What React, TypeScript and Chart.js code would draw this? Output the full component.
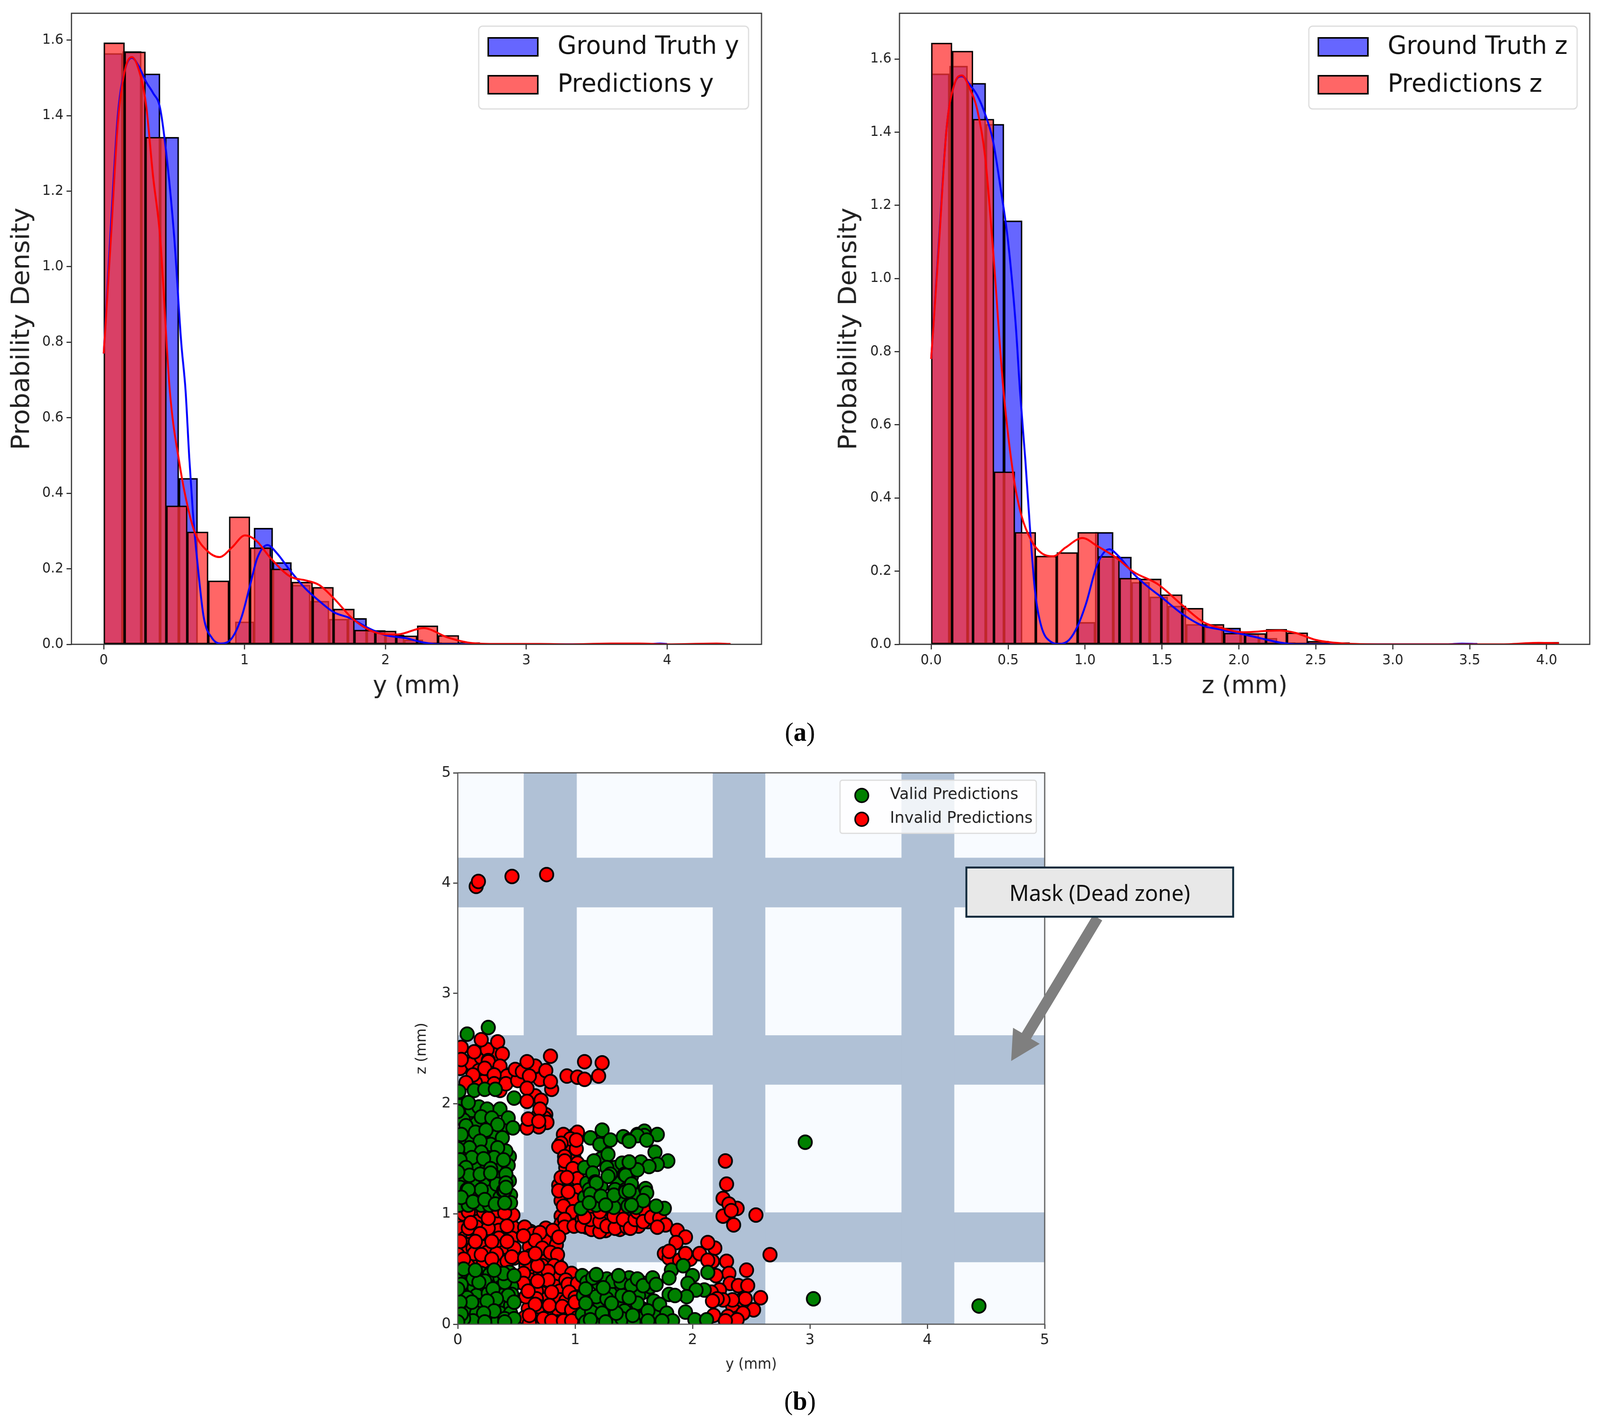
import { useEffect, useRef } from 'react'
import { Chart, registerables } from 'chart.js'

Chart.register(...registerables);

const BINS = 30;
const PAGE_WIDTH = 4198;
const tickFont = 'DejaVu Sans';

// y histogram (density per bin)
const groundTruthYBins = [1.565, 1.57, 1.511, 1.343, 0.44, 0, 0, 0.06, 0.308, 0.217, 0.157, 0.1145, 0.067, 0.069, 0.037, 0.025, 0.012, 0.005, 0, 0, 0, 0, 0, 0, 0, 0, 0, 0, 0, 0.002];
const predictionsYBins = [1.593, 1.569, 1.343, 0.367, 0.298, 0.1685, 0.338, 0.256, 0.2, 0.165, 0.1514, 0.0937, 0.038, 0.0355, 0.023, 0.0494, 0.024, 0.005, 0.002, 0.001, 0.001, 0, 0, 0, 0.002, 0.002, 0, 0, 0, 0.002];
const groundTruthYMax = 4.0;
const predictionsYMax = 4.45;

// z histogram
const groundTruthZBins = [1.56, 1.581, 1.534, 1.422, 1.158, 0.005, 0, 0, 0.0605, 0.3065, 0.239, 0.17, 0.13, 0.105, 0.055, 0.048, 0.045, 0.029, 0.017, 0.005, 0, 0, 0, 0, 0, 0, 0, 0, 0, 0.002];
const predictionsZBins = [1.644, 1.622, 1.436, 0.472, 0.3065, 0.2417, 0.2512, 0.3065, 0.2407, 0.181, 0.179, 0.136, 0.099, 0.055, 0.031, 0.03, 0.0415, 0.032, 0.009, 0.005, 0.002, 0.001, 0, 0, 0, 0, 0, 0, 0.002, 0.006];
const groundTruthZMax = 3.55;
const predictionsZMax = 4.08;

// density curves
const kdeGroundTruthYX = [0, 0.05, 0.1, 0.15, 0.2, 0.25, 0.3, 0.35, 0.4, 0.45, 0.5, 0.55, 0.581, 0.607, 0.633, 0.667, 0.71, 0.77, 0.831, 0.909, 0.978, 1.038, 1.09, 1.162, 1.228, 1.322, 1.426, 1.529, 1.633, 1.753, 1.874, 1.995, 2.15, 2.27, 2.39, 2.6, 3.85, 3.95, 4.0];
const kdeGroundTruthYV = [0.77, 1.1, 1.4, 1.52, 1.553, 1.53, 1.49, 1.46, 1.42, 1.28, 1.08, 0.8, 0.672, 0.496, 0.349, 0.21, 0.0716, 0.016, 0.002, 0.016, 0.0716, 0.155, 0.2285, 0.263, 0.242, 0.196, 0.15, 0.115, 0.085, 0.069, 0.044, 0.025, 0.016, 0.005, 0, 0, 0, 0.002, 0.001];
const kdePredictionsYX = [0, 0.05, 0.1, 0.15, 0.2, 0.25, 0.3, 0.35, 0.4, 0.469, 0.538, 0.6, 0.65, 0.736, 0.822, 0.909, 1.003, 1.081, 1.184, 1.322, 1.443, 1.53, 1.633, 1.77, 1.926, 2.08, 2.27, 2.44, 2.6, 2.8, 3.1, 3.3, 3.6, 3.8, 4.0, 4.35, 4.45];
const kdePredictionsYV = [0.77, 1.07, 1.38, 1.52, 1.555, 1.52, 1.43, 1.24, 1.08, 0.672, 0.478, 0.358, 0.293, 0.247, 0.231, 0.256, 0.2885, 0.275, 0.2285, 0.18, 0.1685, 0.157, 0.122, 0.067, 0.032, 0.026, 0.043, 0.0185, 0.004, 0.001, 0.001, 0, 0.002, 0.002, 0, 0.002, 0.001];
const kdeGroundTruthZX = [0, 0.05, 0.1, 0.15, 0.2, 0.25, 0.3, 0.35, 0.4, 0.45, 0.5, 0.55, 0.577, 0.612, 0.643, 0.675, 0.715, 0.778, 0.833, 0.896, 0.952, 1.007, 1.078, 1.157, 1.22, 1.315, 1.41, 1.505, 1.632, 1.758, 1.885, 2.01, 2.137, 2.264, 2.37, 2.6, 3.35, 3.45, 3.55];
const kdeGroundTruthZV = [0.78, 1.1, 1.41, 1.53, 1.553, 1.53, 1.5, 1.45, 1.38, 1.25, 1.1, 0.87, 0.6935, 0.503, 0.312, 0.145, 0.05, 0.007, 0.001, 0.012, 0.05, 0.112, 0.217, 0.26, 0.24, 0.193, 0.157, 0.126, 0.083, 0.052, 0.04, 0.029, 0.017, 0.005, 0, 0, 0, 0.002, 0.001];
const kdePredictionsZX = [0, 0.05, 0.1, 0.15, 0.2, 0.25, 0.3, 0.35, 0.4, 0.47, 0.54, 0.588, 0.651, 0.715, 0.794, 0.873, 0.983, 1.078, 1.205, 1.315, 1.473, 1.632, 1.774, 1.9, 2.03, 2.185, 2.264, 2.37, 2.5, 2.7, 3.0, 3.7, 3.95, 4.08];
const kdePredictionsZV = [0.78, 1.09, 1.41, 1.53, 1.555, 1.52, 1.46, 1.335, 1.09, 0.6935, 0.4457, 0.35, 0.2836, 0.25, 0.2407, 0.2645, 0.2907, 0.269, 0.236, 0.198, 0.1644, 0.107, 0.0596, 0.043, 0.033, 0.0367, 0.038, 0.031, 0.012, 0.002, 0, 0, 0.004, 0.003];

// tick labels
const yHistTicks = [0, 1, 2, 3, 4];
const zHistTicks = [0, 0.5, 1, 1.5, 2, 2.5, 3, 3.5, 4];
const densityTicksY = [0, 0.2, 0.4, 0.6, 0.8, 1, 1.2, 1.4, 1.6];
const scatterTicks = [0, 1, 2, 3, 4, 5];

// dead zone bands, same on both axes of the scatter
const maskBands = [[0.562, 1.014], [2.172, 2.62], [3.78, 4.23]];

// [y, z] in mm, the packed ones underneath first
const validPacked: number[][] = [
  [0.02, 1.98], [0.12, 1.94], [0.18, 1.97], [0.05, 1.85], [0.16, 1.82], [0.27, 1.78], [0.38, 1.78], [0.02, 1.66], [0.12, 1.68], [0.25, 1.69], [0.33, 1.7], [0.05, 1.55], [0.16, 1.6], [0.27, 1.57], [0.37, 1.6], [0.44, 1.52], [0.06, 1.44], [0.15, 1.45], [0.25, 1.44], [0.35, 1.43], [0.43, 1.44], [0.03, 1.3], [0.13, 1.28], [0.24, 1.3], [0.3, 1.35], [0.44, 1.3], [0.06, 1.16], [0.18, 1.16], [0.28, 1.2], [0.36, 1.15], [0.45, 1.17], [0.01, 1.08], [0.09, 1.08], [0.2, 1.08], [0.27, 1.08], [0.45, 1.1],
  [0.01, 0.46], [0.09, 0.45], [0.2, 0.46], [0.27, 0.45], [0.36, 0.42], [0.44, 0.47], [0.07, 0.36], [0.14, 0.33], [0.24, 0.33], [0.36, 0.33], [0.46, 0.34], [0.02, 0.28], [0.16, 0.26], [0.26, 0.28], [0.38, 0.26], [0.46, 0.27], [0.06, 0.17], [0.17, 0.17], [0.3, 0.18], [0.39, 0.17], [0.45, 0.17], [0.09, 0.1], [0.16, 0.1], [0.27, 0.08], [0.36, 0.1], [0.44, 0.03], [0.02, 0.03], [0.09, 0.02], [0.18, 0.03], [0.28, 0.03], [0.34, 0.03],
  [1.06, 0.44], [1.1, 0.38], [1.07, 0.26], [1.13, 0.18], [1.06, 0.09], [1.09, 0.02], [1.2, 0.37], [1.27, 0.41], [1.32, 0.31], [1.21, 0.16], [1.3, 0.28], [1.36, 0.18], [1.44, 0.31], [1.42, 0.12], [1.46, 0.42], [1.58, 0.29], [1.64, 0.34], [1.57, 0.14], [1.33, 0.03], [1.2, 0.05], [1.44, 0.04], [1.68, 0.08],
  [1.08, 1.42], [1.1, 1.28], [1.22, 1.5], [1.34, 1.42], [1.22, 1.25], [1.36, 1.3], [1.48, 1.34], [1.08, 1.15], [1.18, 1.08], [1.38, 1.12], [1.33, 1.06], [1.52, 1.06], [1.05, 1.05],
];
const validPredictions: number[][] = [
  [0.08, 2.63], [0.26, 2.69], [0.01, 2.11], [0.14, 2.12], [0.23, 2.13], [0.32, 2.13], [0.09, 2.01], [0.48, 2.05], [0, 1.93], [0.25, 1.95], [0.36, 1.95], [0.2, 1.88], [0.29, 1.87], [0.43, 1.87], [0.07, 1.8], [0.34, 1.81], [0.47, 1.78], [0.15, 1.74], [0.24, 1.76], [0.03, 1.72], [0.38, 1.69], [0.28, 1.63], [0.19, 1.66], [0.1, 1.6], [0, 1.59], [0.41, 1.57], [0.34, 1.6], [0.2, 1.56], [0.12, 1.51], [0.31, 1.51], [0.39, 1.49], [0.22, 1.5], [0.02, 1.49], [0.07, 1.42], [0.28, 1.41], [0.41, 1.36], [0.1, 1.35], [0.19, 1.36], [0, 1.38], [0.33, 1.27], [0.41, 1.28], [0.2, 1.22], [0.02, 1.24], [0.08, 1.22], [0.39, 1.21], [0.28, 1.37], [0.4, 1.21], [0.09, 1.22], [0.03, 1.15], [0.13, 1.11], [0.23, 1.13], [0.41, 1.24], [0.32, 1.09], [0.4, 1.1],
  [1.13, 1.69], [1.23, 1.76], [1.21, 1.63], [1.3, 1.67], [1.41, 1.7], [1.46, 1.67], [1.53, 1.72], [1.59, 1.75], [1.28, 1.54], [1.16, 1.48], [1.27, 1.42], [1.4, 1.46], [1.46, 1.47], [1.56, 1.47], [1.15, 1.37], [1.3, 1.36], [1.42, 1.36], [1.51, 1.4], [1.17, 1.29], [1.34, 1.22], [1.43, 1.22], [1.12, 1.22], [1.18, 1.28], [1.13, 1.18], [1.22, 1.16], [1.33, 1.17], [1.43, 1.2], [1.43, 1.35], [1.28, 1.34], [1.54, 1.17], [1.26, 1.08], [1.45, 1.07], [1.12, 1.1],
  [1.7, 1.72], [1.59, 1.71], [1.53, 1.71], [1.46, 1.66], [1.61, 1.67], [1.68, 1.56], [1.79, 1.48], [1.7, 1.45], [1.63, 1.43], [1.53, 1.4], [1.46, 1.47], [1.48, 1.27], [1.6, 1.23], [1.61, 1.19], [1.58, 1.12], [1.46, 1.21], [1.76, 1.05], [1.69, 1.07], [1.48, 1.08], [2.96, 1.65],
  [0.13, 0.41], [0.23, 0.39], [0.4, 0.38], [0.03, 0.36], [0.3, 0.32], [0.08, 0.24], [0.43, 0.26], [0.33, 0.23], [0.25, 0.21], [0.12, 0.2], [0.02, 0.2], [0.45, 0.1], [0.31, 0.12], [0.22, 0.1], [0.13, 0.03], [0.05, 0.05], [0.23, 0.02], [0.4, 0.05], [0.48, 0.2], [0.03, 0.09], [0.39, 0.46], [0.05, 0.5], [0.31, 0.49], [0.48, 0.44], [0.18, 0.38], [0.48, 0.05], [0, 0.32], [0, 0.02], [0.4, 0.02], [0.15, 0.49],
  [1.32, 0.39], [1.53, 0.4], [1.18, 0.25], [1.4, 0.26], [1.27, 0.23], [1.14, 0.11], [1.23, 0.1], [1.49, 0.08], [1.4, 0.05], [1.15, 0.42], [1.24, 0.33], [1.39, 0.38], [1.54, 0.26], [1.48, 0.35], [1.09, 0.32], [1.09, 0.19], [1.35, 0.1], [1.53, 0.18], [1.26, 0.02], [1.57, 0.05], [1.31, 0.19], [1.18, 0.45], [1.37, 0.44], [1.5, 0.02], [1.13, 0.04], [1.59, 0.37],
  [1.82, 0.49], [1.8, 0.42], [1.53, 0.41], [1.58, 0.35], [1.66, 0.42], [1.69, 0.36], [2.0, 0.44], [1.96, 0.37], [2.1, 0.31], [2.03, 0.31], [1.8, 0.27], [1.95, 0.25], [1.53, 0.19], [1.67, 0.21], [1.72, 0.18], [1.85, 0.26], [1.62, 0.12], [1.49, 0.08], [1.78, 0.1], [1.94, 0.11], [1.62, 0.03], [1.83, 0.03], [2.02, 0.04], [2.12, 0.04], [1.74, 0.03], [1.46, 0.24], [2.13, 0.47], [1.92, 0.53], [3.03, 0.23], [4.44, 0.165],
];
const invalidPacked: number[][] = [
  [0.02, 2.32], [0.12, 2.36], [0.2, 2.42], [0.32, 2.44], [0.18, 2.3], [0.29, 2.28], [0.38, 2.28], [0.22, 2.2], [0.15, 2.19], [0.36, 2.12],
  [0.02, 0.96], [0.14, 1.0], [0.17, 0.93], [0.33, 0.95], [0.03, 0.87], [0.16, 0.88], [0.35, 0.85], [0.47, 0.88], [0.06, 0.78], [0.13, 0.8], [0.24, 0.78], [0.35, 0.78], [0.46, 0.78], [0.09, 0.72], [0.22, 0.7], [0.36, 0.7], [0.06, 0.67], [0.25, 0.65], [0.39, 0.65], [0.12, 0.58], [0.33, 0.56], [0.48, 0.6], [0.27, 0.56], [0.38, 0.58], [0.18, 0.6],
  [0.62, 0.84], [0.68, 0.76], [0.61, 0.7], [0.78, 0.78], [0.74, 0.76], [0.84, 0.72], [0.62, 0.62], [0.74, 0.6], [0.6, 0.55], [0.72, 0.53], [0.84, 0.58], [0.64, 0.47], [0.7, 0.45], [0.85, 0.45], [0.62, 0.4], [0.73, 0.36], [0.83, 0.37], [0.6, 0.34], [0.72, 0.28], [0.87, 0.3], [0.62, 0.2], [0.72, 0.17], [0.87, 0.22], [0.6, 0.14], [0.84, 0.1], [0.92, 0.21], [0.67, 0.08], [0.75, 0.1], [0.93, 0.1], [1.0, 0.12], [0.65, 0.02], [0.72, 0.02], [0.85, 0.02], [0.95, 0.02], [0.98, 0.3], [0.76, 0.23], [0.86, 0.46], [0.67, 0.3],
  [1.03, 0.9], [1.1, 0.88], [1.17, 0.87], [1.26, 0.85], [1.3, 0.94], [1.38, 0.86], [1.42, 0.9], [1.17, 0.98], [1.24, 1.0], [1.36, 1.0], [1.47, 0.93], [1.54, 0.89], [1.62, 0.93], [1.68, 0.98], [1.1, 1.0],
  [0.94, 1.62], [1.0, 1.72], [0.92, 1.42], [0.99, 1.51], [0.9, 1.26], [0.97, 1.3], [0.93, 1.15], [0.88, 1.12], [1.0, 1.08], [0.95, 1.07], [0.88, 0.98], [0.88, 0.91],
  [0.66, 2.28], [0.7, 2.22], [0.62, 2.32], [0.69, 1.9], [0.64, 1.83], [0.75, 1.9], [0.66, 2.07], [0.74, 1.87],
];
const invalidPredictions: number[][] = [
  [0.03, 2.51], [0.03, 2.4], [0.25, 2.49], [0.26, 2.39], [0.14, 2.47], [0.2, 2.58], [0.34, 2.56], [0.38, 2.45], [0.26, 2.38], [0.36, 2.34], [0.23, 2.32], [0.13, 2.26], [0.42, 2.25], [0.31, 2.26], [0.07, 2.19], [0.31, 2.18], [0.41, 2.18], [0.51, 2.21], [0.49, 2.31], [0.66, 2.34], [0.55, 2.29], [0.61, 2.25], [0.59, 2.38], [0.59, 2.14], [0.75, 2.3], [0.79, 2.43], [0.8, 2.13], [0.79, 2.2], [0.71, 2.03], [0.59, 2.02], [0.7, 1.95], [0.76, 1.83], [0.69, 1.79], [0.59, 1.78], [0.6, 1.86], [0.69, 1.84], [0.93, 2.25], [1.02, 2.24], [1.08, 2.22], [1.2, 2.25], [1.08, 2.38], [1.23, 2.37],
  [0.9, 1.72], [1.02, 1.74], [0.96, 1.68], [0.88, 1.64], [0.86, 1.61], [1.01, 1.59], [1.01, 1.67], [0.91, 1.52], [0.91, 1.48], [1.02, 1.46], [0.98, 1.41], [0.86, 1.26], [0.94, 1.21], [0.88, 1.33], [1.02, 1.32], [0.93, 1.33],
  [0.86, 1.21], [1.02, 1.21], [0.99, 1.13], [0.94, 1.2], [0.9, 1.07], [0.98, 1.02], [0.91, 0.95], [0.91, 0.88], [0.99, 0.89], [1.06, 0.95], [1.06, 0.89], [1.14, 0.86], [1.13, 0.95], [1.08, 0.97], [1.21, 0.84], [1.21, 0.93], [1.21, 1.02], [1.27, 0.89], [1.34, 0.87], [1.33, 0.98], [1.44, 0.88], [1.41, 0.95], [1.47, 0.87], [1.51, 0.95], [1.58, 0.95], [1.53, 1.02], [1.6, 1.02], [1.58, 0.93], [1.65, 0.97], [1.72, 0.96], [1.77, 0.9], [1.7, 0.88],
  [0.05, 1.0], [0.09, 1.02], [0.22, 1.02], [0.34, 1.03], [0.47, 0.99], [0.02, 0.75], [0.09, 0.87], [0.26, 0.87], [0.19, 0.82], [0.13, 0.69], [0.14, 0.64], [0.33, 0.64], [0.48, 0.69], [0, 0.63], [0.05, 0.59], [0.42, 0.57], [0.22, 0.57], [0.15, 0.75], [0.11, 0.92], [0.26, 0.96], [0.4, 1.01], [0.42, 0.89], [0.29, 0.75], [0.42, 0.75], [0.2, 0.63], [0.29, 0.59], [0.46, 0.61],
  [0.57, 0.88], [0.64, 0.82], [0.75, 0.87], [0.7, 0.83], [0.81, 0.85], [0.86, 0.79], [0.66, 0.76], [0.72, 0.69], [0.79, 0.65], [0.85, 0.63], [0.58, 0.53], [0.82, 0.53], [0.88, 0.51], [0.77, 0.48], [0.56, 0.46], [0.77, 0.4], [0.97, 0.46], [0.92, 0.4], [0.56, 0.37], [0.94, 0.36], [1.02, 0.37], [0.8, 0.29], [0.95, 0.29], [0.67, 0.23], [0.58, 0.25], [1.0, 0.24], [0.69, 0.16], [0.78, 0.17], [0.89, 0.16], [0.66, 0.18], [0.97, 0.13], [0.57, 0.06], [0.73, 0.05], [0.8, 0.03], [0.9, 0.03], [1.02, 0.06], [0.61, 0.01], [0.97, 0.03], [0.61, 0.08], [1.0, 0.2], [0.68, 0.53], [0.68, 0.39], [0.6, 0.3], [0.56, 0.8], [0.57, 0.6], [0.66, 0.64],
  [2.28, 1.48], [2.29, 1.27], [2.26, 1.14], [2.38, 1.05], [2.31, 1.09], [2.26, 0.98], [2.35, 0.9], [2.33, 1.03], [2.54, 0.99], [2.66, 0.63], [1.87, 0.85], [1.94, 0.79], [1.86, 0.74], [1.76, 0.64], [1.8, 0.6], [1.89, 0.58], [1.98, 0.59], [1.8, 0.66], [1.94, 0.64], [2.06, 0.64], [2.19, 0.69], [2.13, 0.74], [2.17, 0.57], [2.13, 0.58], [2.29, 0.57], [2.46, 0.49], [2.31, 0.46], [2.2, 0.44], [2.32, 0.37], [2.39, 0.35], [2.47, 0.35], [2.23, 0.31], [2.16, 0.29], [2.58, 0.24], [2.34, 0.17], [2.42, 0.22], [2.45, 0.23], [2.34, 0.22], [2.26, 0.22], [2.21, 0.23], [2.17, 0.21], [2.52, 0.13], [2.43, 0.1], [2.3, 0.07], [2.18, 0.08], [2.38, 0.04], [2.28, 0.03],
  [0.157, 3.97], [0.176, 4.015], [0.462, 4.06], [0.757, 4.077],
];

const blueFill = 'rgba(0,0,255,0.6)';
const redFill = 'rgba(255,51,51,0.75)';

function binsToPoints(bins: number[], max: number) {
  const w = max / BINS;
  return bins.map((v, i) => ({ x: (i + 0.5) * w, y: v }));
}

function pairs(xs: number[], ys: number[]) {
  return xs.map((x, i) => ({ x, y: ys[i] }));
}

// box frame round the plot
function framePlugin(color: string, width: number) {
  return {
    id: 'plotFrame',
    afterDatasetsDraw(chart: Chart) {
      const { ctx, chartArea: a } = chart;
      ctx.save();
      ctx.strokeStyle = color;
      ctx.lineWidth = width;
      ctx.strokeRect(a.left, a.top, a.right - a.left, a.bottom - a.top);
      ctx.restore();
    },
  };
}

// legend is drawn by hand, chart.js puts its own under the datasets
function histLegend(x: number, w: number, labels: string[]) {
  return {
    id: 'histLegend',
    afterDraw(chart: Chart) {
      const { ctx } = chart;
      ctx.save();
      ctx.beginPath();
      ctx.roundRect(x, 67, w, 212, 10);
      ctx.fillStyle = 'rgba(255,255,255,0.8)';
      ctx.fill();
      ctx.strokeStyle = '#dcdcdc';
      ctx.lineWidth = 3;
      ctx.stroke();
      const fills = ['#6666ff', '#ff6666'];
      labels.forEach((label, i) => {
        const top = 97 + i * 97;
        ctx.fillStyle = fills[i];
        ctx.fillRect(x + 25, top, 130, 46);
        ctx.strokeStyle = '#000';
        ctx.lineWidth = 4;
        ctx.strokeRect(x + 25, top, 130, 46);
        ctx.fillStyle = '#111';
        ctx.font = `64px "${tickFont}"`;
        ctx.textBaseline = 'middle';
        ctx.textAlign = 'left';
        ctx.fillText(label, x + 207, top + 24);
      });
      ctx.restore();
    },
  };
}

const maskPlugin = {
  id: 'maskBands',
  beforeDatasetsDraw(chart: Chart) {
    const { ctx, chartArea: a, scales } = chart;
    ctx.save();
    ctx.fillStyle = '#f8fbff';
    ctx.fillRect(a.left, a.top, a.right - a.left, a.bottom - a.top);
    ctx.fillStyle = '#b0c1d6';
    for (const [lo, hi] of maskBands) {
      const x0 = scales.x.getPixelForValue(lo);
      const x1 = scales.x.getPixelForValue(hi);
      ctx.fillRect(x0, a.top, x1 - x0, a.bottom - a.top);
      const y0 = scales.y.getPixelForValue(hi);
      const y1 = scales.y.getPixelForValue(lo);
      ctx.fillRect(a.left, y0, a.right - a.left, y1 - y0);
    }
    ctx.restore();
  },
};

const scatterLegend = {
  id: 'scatterLegend',
  afterDraw(chart: Chart) {
    const { ctx, chartArea: a } = chart;
    const left = a.right - 537;
    const top = a.top + 19;
    ctx.save();
    ctx.beginPath();
    ctx.roundRect(left, top, 515, 136, 6);
    ctx.fillStyle = 'rgba(255,255,255,0.8)';
    ctx.fill();
    ctx.strokeStyle = '#dcdcdc';
    ctx.lineWidth = 3;
    ctx.stroke();
    const rows = [{ label: 'Valid Predictions', color: '#008000' }, { label: 'Invalid Predictions', color: '#ff0000' }];
    rows.forEach((row, i) => {
      const y = top + 39 + i * 61;
      ctx.beginPath();
      ctx.arc(left + 57, y, 17.5, 0, Math.PI * 2);
      ctx.fillStyle = row.color;
      ctx.fill();
      ctx.strokeStyle = '#000';
      ctx.lineWidth = 4;
      ctx.stroke();
      ctx.fillStyle = '#222';
      ctx.font = `41px "${tickFont}"`;
      ctx.textBaseline = 'middle';
      ctx.textAlign = 'left';
      ctx.fillText(row.label, left + 131, y - 2);
    });
    ctx.restore();
  },
};

function histConfig(p: {
  xMin: number; xMax: number; yMax: number; xTicks: number[]; xDigits: number;
  xTitle: string; yWidth: number; right: number; titleOffset: number; plotWidth: number;
  gtBins: number[]; gtMax: number; predBins: number[]; predMax: number;
  gtKde: { x: number; y: number }[]; predKde: { x: number; y: number }[];
  legendX: number; legendW: number; axisName: string;
}) {
  const tick = { font: { family: tickFont, size: 35 }, color: '#222', padding: 8 };
  const tickGrid = { drawOnChartArea: false, drawTicks: true, offset: false, tickLength: 13, tickWidth: 3, tickColor: '#333' };
  const pxPerMm = p.plotWidth / (p.xMax - p.xMin);
  const barStyle = { backgroundColor: blueFill, borderColor: '#000', borderWidth: 3.5, borderSkipped: false, grouped: false };
  return {
    type: 'bar' as const,
    data: {
      datasets: [
        { ...barStyle, type: 'bar', label: `Ground Truth ${p.axisName}`, data: binsToPoints(p.gtBins, p.gtMax), barThickness: (p.gtMax / BINS) * pxPerMm, order: 4 },
        { ...barStyle, type: 'bar', label: `Predictions ${p.axisName}`, data: binsToPoints(p.predBins, p.predMax), barThickness: (p.predMax / BINS) * pxPerMm, backgroundColor: redFill, order: 3 },
        // curves sit above all the bars
        { type: 'line', data: p.gtKde, borderColor: '#0000ff', borderWidth: 5, pointRadius: 0, cubicInterpolationMode: 'monotone', order: 2 },
        { type: 'line', data: p.predKde, borderColor: '#ff0000', borderWidth: 5, pointRadius: 0, cubicInterpolationMode: 'monotone', order: 1 },
      ],
    },
    options: {
      animation: false as const,
      responsive: false,
      devicePixelRatio: 1,
      layout: { padding: { top: 34, right: p.right, left: 0, bottom: 0 } },
      plugins: { legend: { display: false }, tooltip: { enabled: false } },
      scales: {
        x: {
          type: 'linear' as const, min: p.xMin, max: p.xMax, offset: false,
          grid: tickGrid, border: { display: false }, ticks: { ...tick, callback: (v: any) => Number(v).toFixed(p.xDigits), maxRotation: 0, autoSkip: false },
          afterBuildTicks: (s: any) => { s.ticks = p.xTicks.map(value => ({ value })); },
          title: { display: true, text: p.xTitle, font: { family: tickFont, size: 63 }, color: '#222', padding: 4 },
          afterFit: (s: any) => { s.height = 150; },
        },
        y: {
          type: 'linear' as const, min: 0, max: p.yMax,
          grid: tickGrid, border: { display: false }, ticks: { ...tick, callback: (v: any) => Number(v).toFixed(1), autoSkip: false },
          afterBuildTicks: (s: any) => { s.ticks = densityTicksY.map(value => ({ value })); },
          title: { display: true, text: 'Probability Density', font: { family: tickFont, size: 66 }, color: '#222', padding: p.titleOffset },
          afterFit: (s: any) => { s.width = p.yWidth; },
        },
      },
    },
    plugins: [framePlugin('#333', 3), histLegend(p.legendX, p.legendW, [`Ground Truth ${p.axisName}`, `Predictions ${p.axisName}`])],
  };
}

function scatterConfig() {
  const tick = { font: { family: tickFont, size: 38 }, color: '#222', padding: 6, callback: (v: any) => String(v), autoSkip: false, maxRotation: 0 };
  const tickGrid = { drawOnChartArea: false, drawTicks: true, tickLength: 12, tickWidth: 3, tickColor: '#444' };
  const setTicks = (s: any) => { s.ticks = scatterTicks.map(value => ({ value })); };
  const points = (rows: number[][]) => rows.map(([y, z]) => ({ x: y, y: z }));
  return {
    type: 'scatter' as const,
    data: {
      datasets: [
        { label: 'Valid Predictions', data: points([...validPacked, ...validPredictions]), backgroundColor: '#008000', borderColor: '#000', borderWidth: 4.5, pointRadius: 17.5, clip: 0 },
        { label: 'Invalid Predictions', data: points([...invalidPacked, ...invalidPredictions]), backgroundColor: '#ff0000', borderColor: '#000', borderWidth: 4.5, pointRadius: 17.5, clip: 0 },
      ],
    },
    options: {
      animation: false as const,
      responsive: false,
      devicePixelRatio: 1,
      layout: { padding: { top: 29, right: 39, left: 0, bottom: 0 } },
      plugins: { legend: { display: false }, tooltip: { enabled: false } },
      scales: {
        x: {
          type: 'linear' as const, min: 0, max: 5, grid: tickGrid, border: { display: false }, ticks: tick, afterBuildTicks: setTicks,
          title: { display: true, text: 'y (mm)', font: { family: tickFont, size: 37 }, color: '#222', padding: 2 },
          afterFit: (s: any) => { s.height = 129; },
        },
        y: {
          type: 'linear' as const, min: 0, max: 5, grid: tickGrid, border: { display: false }, ticks: tick, afterBuildTicks: setTicks,
          title: { display: true, text: 'z (mm)', font: { family: tickFont, size: 37 }, color: '#222', padding: 25 },
          afterFit: (s: any) => { s.width = 141; },
        },
      },
    },
    plugins: [maskPlugin, framePlugin('#555', 3), scatterLegend],
  };
}

function Panel({ config, left, top, width, height }: { config: () => any; left: number; top: number; width: number; height: number }) {
  const ref = useRef<HTMLCanvasElement>(null);
  useEffect(() => {
    if (!ref.current) return;
    const chart = new Chart(ref.current, config());
    return () => chart.destroy();
  }, []);
  return <canvas ref={ref} width={width} height={height} style={{ position: 'absolute', left, top, width, height }} />;
}

const captionStyle = (top: number) => ({
  position: 'absolute' as const, left: 2000, width: 198, top, textAlign: 'center' as const,
  fontFamily: '"Liberation Serif"', fontSize: 68, lineHeight: '80px', color: '#000',
});

export default function App() {
  useEffect(() => { document.body.style.margin = '0'; }, []);
  // the browser window can come out narrower than the page, squeeze so the right edge stays in
  const fit = Math.min(1, window.innerWidth / PAGE_WIDTH);
  return (
    <div style={{ position: 'absolute', left: 0, top: 0, width: PAGE_WIDTH, height: 3644, background: '#fff', overflow: 'hidden', transform: `scaleX(${fit})`, transformOrigin: '0 0' }}>
      <Panel
        left={0} top={0} width={2070} height={1800}
        config={() => histConfig({
          xMin: -0.229, xMax: 4.67, yMax: 1.671, xTicks: yHistTicks, xDigits: 0, xTitle: 'y (mm)',
          yWidth: 187.5, right: 72, titleOffset: 19, axisName: 'y', plotWidth: 1810.5,
          gtBins: groundTruthYBins, gtMax: groundTruthYMax, predBins: predictionsYBins, predMax: predictionsYMax,
          gtKde: pairs(kdeGroundTruthYX, kdeGroundTruthYV), predKde: pairs(kdePredictionsYX, kdePredictionsYV),
          legendX: 1256, legendW: 708,
        })}
      />
      <Panel
        left={2140} top={0} width={2058} height={1800}
        config={() => histConfig({
          xMin: -0.206, xMax: 4.28, yMax: 1.725, xTicks: zHistTicks, xDigits: 1, xTitle: 'z (mm)',
          yWidth: 220, right: 27, titleOffset: 49, axisName: 'z', plotWidth: 1811,
          gtBins: groundTruthZBins, gtMax: groundTruthZMax, predBins: predictionsZBins, predMax: predictionsZMax,
          gtKde: pairs(kdeGroundTruthZX, kdeGroundTruthZV), predKde: pairs(kdePredictionsZX, kdePredictionsZV),
          legendX: 1294, legendW: 704,
        })}
      />
      <Panel left={1060} top={1950} width={1720} height={1570} config={scatterConfig} />
      <svg width={PAGE_WIDTH} height={3644} style={{ position: 'absolute', left: 0, top: 0 }}>
        <polygon points="2892,2357 2868,2343 2681,2645 2658,2632 2653,2717 2728,2673 2705,2660" fill="#7f7f7f" />
      </svg>
      <div style={{
        position: 'absolute', left: 2533, top: 2219, width: 705, height: 131, boxSizing: 'border-box',
        border: '5px solid #0f2b3d', background: '#e8e8e8', display: 'flex', alignItems: 'center', justifyContent: 'center',
        fontFamily: '"Noto Sans"', fontSize: 57, color: '#111',
      }}>Mask (Dead zone)</div>
      <div style={captionStyle(1834)}>(<b>a</b>)</div>
      <div style={captionStyle(3547)}>(<b>b</b>)</div>
    </div>
  );
}
